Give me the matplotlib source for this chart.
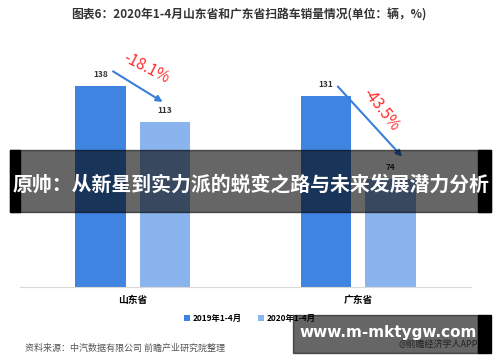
import matplotlib.pyplot as plt
from matplotlib.patches import Rectangle
import numpy as np

plt.rcParams['font.family'] = ['Noto Sans CJK SC', 'DejaVu Sans']

# data
provinces = ['山东省', '广东省']
series_names = ['2019年1-4月', '2020年1-4月']
sales_2019 = [138, 131]
sales_2020 = [113, 74]
changes = ['-18.1%', '-43.5%']
colors = ['#3F84E0', '#8AB4EE']

fig = plt.figure(figsize=(5, 3.62), dpi=100)
W, H = 500, 362
ax = fig.add_axes([20 / W, 75 / H, 451 / W, 247 / H])

x = np.arange(len(provinces))
off = 0.143
bw = 0.226
ax.bar(x - off, sales_2019, bw, color=colors[0], label=series_names[0])
ax.bar(x + off, sales_2020, bw, color=colors[1], label=series_names[1])
ax.set_xlim(-0.5, 1.5)
ax.set_ylim(0, 169.5)

for i in range(len(provinces)):
	ax.text(x[i] - off, sales_2019[i] + 5, str(sales_2019[i]), ha='center', va='bottom',
			fontsize=6, fontweight='bold', color='#333333')
	ax.text(x[i] + off, sales_2020[i] + 5, str(sales_2020[i]), ha='center', va='bottom',
			fontsize=6, fontweight='bold', color='#333333')

# change arrows
ax.annotate('', xy=(x[0] + off, 126), xytext=(x[0] - off + 0.045, 149),
			arrowprops=dict(arrowstyle='-|>', color='#3A7FD9', lw=1.5, mutation_scale=9))
ax.text(0.06, 150, changes[0], color='#FF2A2A', fontsize=11, rotation=-27,
		ha='center', va='center')
ax.annotate('', xy=(x[1] + off + 0.06, 88), xytext=(x[1] - off + 0.044, 139),
			arrowprops=dict(arrowstyle='-|>', color='#3A7FD9', lw=1.5, mutation_scale=9))
ax.text(1.1, 122, changes[1], color='#FF2A2A', fontsize=11, rotation=-52,
		ha='center', va='center')

for s in ['top', 'right', 'left']:
	ax.spines[s].set_visible(False)
ax.spines['bottom'].set_color('#D9D9D9')
ax.set_yticks([])
ax.set_xticks(x)
ax.set_xticklabels(provinces, fontsize=7, fontweight='bold')
ax.tick_params(axis='x', length=0, pad=6)

fig.legend(loc='center', bbox_to_anchor=(250 / W, 1 - 318 / H), ncol=2, frameon=False,
		   prop={'weight': 'bold', 'size': 6}, handlelength=0.7, handleheight=0.7,
		   columnspacing=2.0, handletextpad=0.3)

fig.text(249 / W, 1 - 15 / H, '图表6：2020年1-4月山东省和广东省扫路车销量情况(单位：辆，%)',
		 ha='center', va='center', fontsize=8.5, fontweight='bold', color='#333333')
fig.text(25 / W, 1 - 348 / H, '资料来源：中汽数据有限公司 前瞻产业研究院整理',
		 ha='left', va='center', fontsize=6.5, color='#555555')
fig.text(478 / W, 1 - 344 / H, '@前瞻经济学人APP', ha='right', va='center',
		 fontsize=6.5, color='#555555')

# overlay banner
fig.patches.append(Rectangle((10 / W, 1 - 212 / H), 481 / W, 62 / H,
							 transform=fig.transFigure, color='black', alpha=0.6, zorder=5))
fig.patches.append(Rectangle((10 / W, 1 - 212 / H), 10 / W, 62 / H,
							 transform=fig.transFigure, color='black', zorder=5))
fig.patches.append(Rectangle((478 / W, 1 - 212 / H), 13 / W, 62 / H,
							 transform=fig.transFigure, color='black', zorder=5))
fig.text(251 / W, 1 - 184 / H, '原帅：从新星到实力派的蜕变之路与未来发展潜力分析',
		 ha='center', va='center', fontsize=14.3, fontweight='bold', color='white', zorder=6)

# bottom-right box
fig.patches.append(Rectangle((293 / W, 1 - 353 / H), 185 / W, 38 / H,
							 transform=fig.transFigure, color='black', alpha=0.6, zorder=5))
fig.patches.append(Rectangle((478 / W, 1 - 353 / H), 13 / W, 38 / H,
							 transform=fig.transFigure, color='black', zorder=5))
fig.text(388 / W, 1 - 332 / H, 'www.m-mktygw.com', ha='center', va='center',
		 fontsize=11, fontweight='bold', color='white', family='DejaVu Sans', zorder=6)

fig.savefig('out.png', dpi=100)
